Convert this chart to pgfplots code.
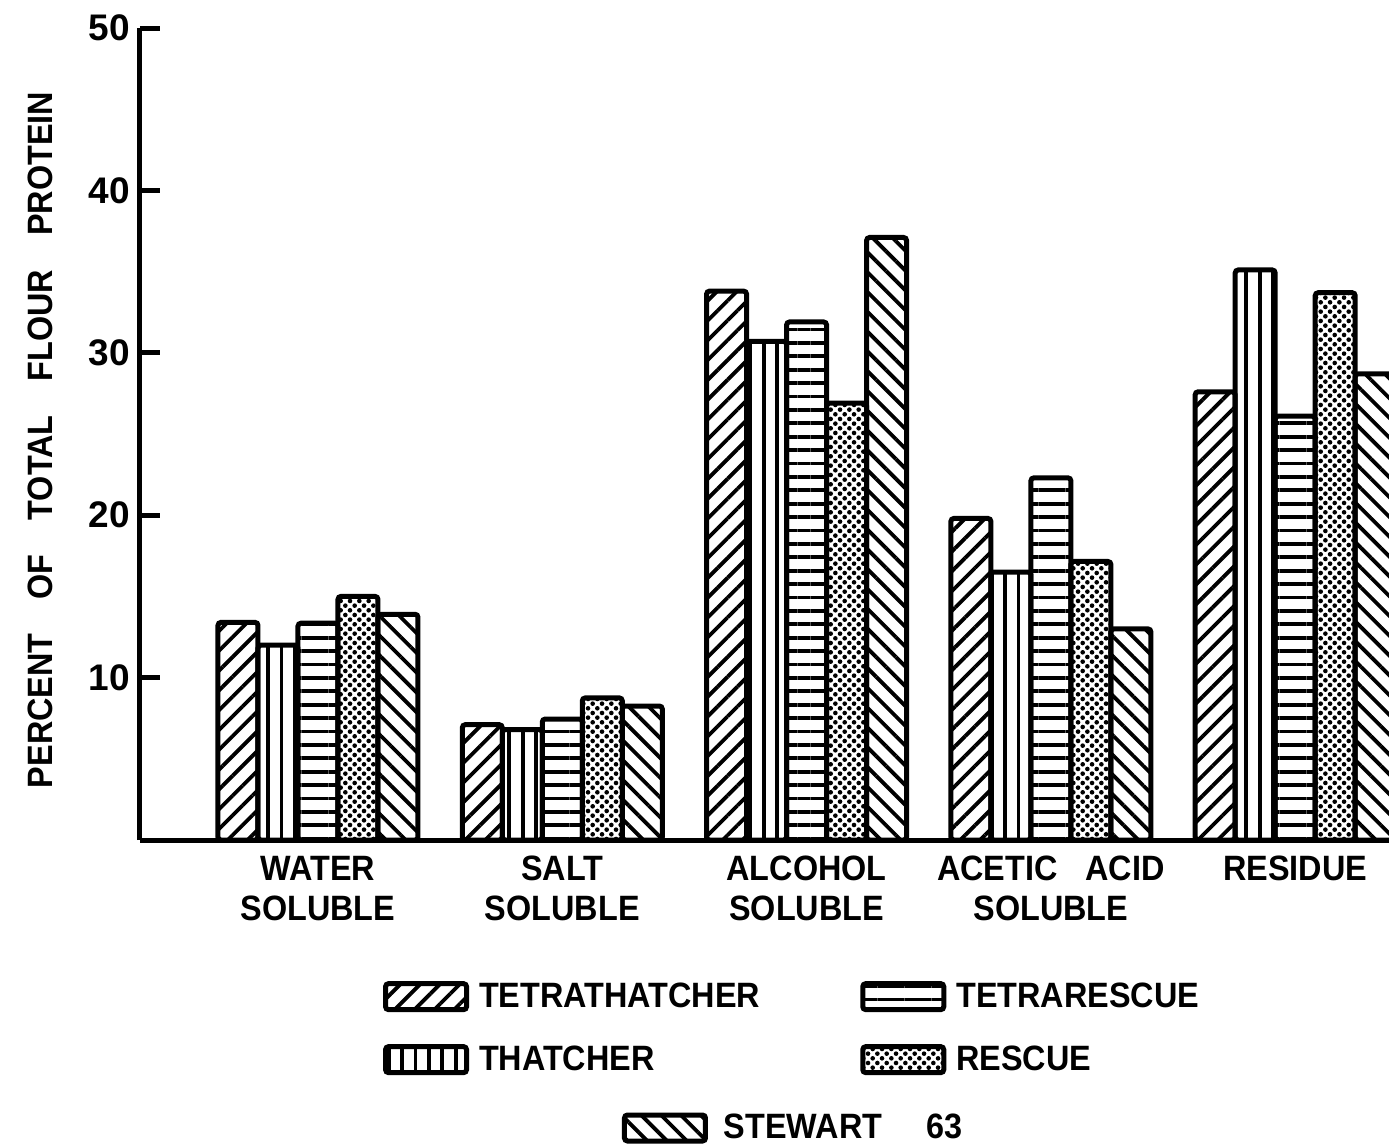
\documentclass[border=0pt]{standalone}
\usepackage{fontspec}
\setmainfont{Liberation Sans}[FakeStretch=0.92]
\newfontfamily\tickfont{Liberation Sans}
\usepackage{pgfplots}
\usepackage{pgfplotstable}
\pgfplotsset{compat=1.18}
\usetikzlibrary{patterns.meta}

\newcommand\lf{\fontsize{17.6}{20}\selectfont\bfseries}
\newcommand\tf{\fontsize{18.5}{20}\selectfont\tickfont\bfseries}

\pgfplotstableread{
g TT TH TR RE ST
0 13.4 12.0 13.35 15.0 13.9
1 7.1 6.8 7.45 8.75 8.25
2 33.8 30.7 31.9 26.9 37.1
3 19.8 16.5 22.3 17.15 13.0
4 27.6 35.1 26.1 33.7 28.7
}\data

\pgfplotsset{
  swatch/.style={legend image code/.code={\draw[##1] (0pt,-6.5pt) rectangle (40.5pt,6.5pt);}},
  barbase/.style={draw=black, line width=2.5pt, rounded corners=1.5pt, swatch},
  sTT/.style={barbase, pattern={Lines[angle=45,distance=7pt,line width=1.9pt]}},
  sTH/.style={barbase, pattern={Lines[angle=90,distance=6.7pt,line width=1.9pt]}},
  sTR/.style={barbase, pattern={Lines[angle=0,distance=6.7pt,line width=1.9pt]}},
  sRE/.style={barbase, pattern={Dots[angle=45,distance=3.3pt,radius=1.15pt]}},
  sST/.style={barbase, pattern={Lines[angle=-45,distance=7pt,line width=1.9pt]}},
  mylegend/.style={
    legend style={draw=none, fill=none, inner sep=0pt, outer sep=0pt, font=\lf,
      nodes={inner sep=0pt}, row sep=16pt,
      /tikz/every odd column/.append style={column sep=5pt},
      /tikz/every even column/.append style={column sep=50pt}},
    legend cell align=left,
  },
}

\begin{document}
\begin{tikzpicture}
\useasboundingbox (-70pt,-153.5pt) rectangle (624.5pt,420pt);
\begin{axis}[
  at={(0pt,0pt)}, anchor=south west,
  scale only axis, width=624.5pt, height=406pt,
  xmin=-0.7286, xmax=4.384, ymin=0, ymax=50,
  axis x line=bottom, axis y line=left,
  axis line style={line width=2.5pt,-},
  ytick={10,20,30,40,50},
  tick align=inside, major tick length=10pt,
  ytick style={line width=2.5pt, black},
  xtick={0,1,2,3,4}, xtick style={draw=none},
  xticklabels={{WATER\\SOLUBLE},{SALT\\SOLUBLE},{ALCOHOL\\SOLUBLE},{ACETIC\hspace{14pt}ACID\\SOLUBLE},{RESIDUE}},
  xticklabel style={align=center, font=\lf, inner sep=0pt, anchor=north, yshift=2pt},
  yticklabel style={font=\tf, inner sep=0pt, anchor=east, xshift=-5pt},
  /pgf/number format/assume math mode=true,
  ylabel={PERCENT\hskip17pt OF\hskip17pt TOTAL\hskip17pt FLOUR\hskip17pt PROTEIN},
  ylabel style={font=\lf, at={(axis description cs:-0.08,0.4926)}, anchor=center},
  ybar=0pt, bar width=20pt,
  mylegend,
  legend columns=2, transpose legend,
  legend style={at={(0.1946,-0.2317)}, anchor=west},
]
\addplot[sTT] table[x=g,y=TT] {\data};
\addplot[sTH] table[x=g,y=TH] {\data};
\addplot[sTR] table[x=g,y=TR] {\data};
\addplot[sRE] table[x=g,y=RE] {\data};
\addplot[sST] table[x=g,y=ST] {\data};
\legend{TETRATHATCHER,THATCHER,TETRARESCUE,RESCUE}
\end{axis}
\begin{axis}[
  at={(0pt,0pt)}, anchor=south west,
  scale only axis, width=624.5pt, height=406pt,
  xmin=0, xmax=1, ymin=0, ymax=1, hide axis,
  mylegend,
  legend style={at={(0.3859,-0.3547)}, anchor=west, /tikz/every odd column/.append style={column sep=8pt}},
]
\addlegendimage{sST}
\addlegendentry{STEWART\hspace{22pt}63}
\end{axis}
\end{tikzpicture}
\end{document}
